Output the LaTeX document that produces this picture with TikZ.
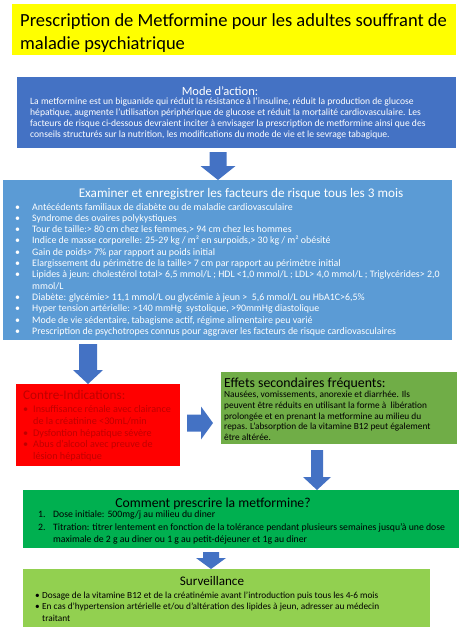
\documentclass[tikz,border=0pt]{standalone}
\usepackage{fontspec}
\setmainfont{Carlito}
\usepackage{xcolor}
\definecolor{vizTitle}{HTML}{FFFF00}
\definecolor{vizMode}{HTML}{4472C4}
\definecolor{vizRisk}{HTML}{5B9BD5}
\definecolor{vizContra}{HTML}{FF0000}
\definecolor{vizContraText}{HTML}{C00000}
\definecolor{vizEffets}{HTML}{70AD47}
\definecolor{vizComment}{HTML}{00B050}
\definecolor{vizSurv}{HTML}{92D050}
\definecolor{vizArrow}{HTML}{4472C4}
\usetikzlibrary{calc}

% block arrow: start, end, shaft half width, head half width, head length
\newcommand{\blockArrow}[5]{%
  \coordinate (ah) at ($(#2)!#5!(#1)$);
  \fill[vizArrow] ($(#1)!#3!90:(#2)$) -- ($(ah)!#3!90:(#2)$) -- ($(ah)!#4!90:(#2)$) -- (#2)
    -- ($(ah)!#4!-90:(#2)$) -- ($(ah)!#3!-90:(#2)$) -- ($(#1)!#3!-90:(#2)$) -- cycle;
}
\newcommand{\riskItem}[1]{\makebox[17pt][l]{\textbullet}#1}
\newcommand{\redItem}[1]{\makebox[10pt][l]{\textbullet}#1}
\newcommand{\numItem}[2]{\makebox[15pt][l]{#1}#2}
\newcommand{\survItem}[1]{\makebox[7pt][l]{\textbullet}#1}

\begin{document}
\begin{tikzpicture}[x=1pt, y=-1pt,
  box/.style={anchor=north west, inner sep=0pt, outer sep=0pt},
  body/.style 2 args={anchor=north west, inner sep=0pt, align=left, font=\fontsize{#1}{#2}\selectfont},
  head/.style={anchor=base, inner sep=0pt, font=\fontsize{#1}{14}\selectfont},
  head/.default=13.5]
  \useasboundingbox (0,0) rectangle (462,630);

  % boxes
  \node[box, fill=vizTitle, minimum width=444pt, minimum height=51pt] (title) at (12,4) {};
  \node[box, fill=vizMode, minimum width=439pt, minimum height=71pt] (mode) at (17,77) {};
  \node[box, fill=vizRisk, minimum width=449pt, minimum height=160pt] (risk) at (3,180) {};
  \node[box, fill=vizContra, minimum width=164pt, minimum height=82pt] (contra) at (16,384) {};
  \node[box, fill=vizEffets, minimum width=236pt, minimum height=72pt] (effets) at (221,372) {};
  \node[box, fill=vizComment, minimum width=436pt, minimum height=58pt] (comment) at (23,490) {};
  \node[box, fill=vizSurv, minimum width=407pt, minimum height=58pt] (surv) at (23,569) {};

  % title
  \node[body={18.5}{22.5}] (titletxt) at (20,13.5) {Prescription de Metformine pour les adultes souffrant de\\maladie psychiatrique};

  % mode d'action
  \node[head=12.5, text=white] (modehead) at (220,95) {Mode d’action:};
  \node[body={9.6}{11}, text=white] (modetxt) at (30,98) {La metformine est un biguanide qui réduit la résistance à l'insuline, réduit la production de glucose\\
    hépatique, augmente l'utilisation périphérique de glucose et réduit la mortalité cardiovasculaire. Les\\
    facteurs de risque ci-dessous devraient inciter à envisager la prescription de metformine ainsi que des\\
    conseils structurés sur la nutrition, les modifications du mode de vie et le sevrage tabagique.};

  % facteurs de risque
  \node[head=13.2, text=white] (riskhead) at (241,197.5) {Examiner et enregistrer les facteurs de risque tous les 3 mois};
  \node[body={9.9}{11.3}, text=white] (risktxt) at (15,203) {\riskItem{Antécédents familiaux de diabète ou de maladie cardiovasculaire}\\
    \riskItem{Syndrome des ovaires polykystiques}\\
    \riskItem{Tour de taille:> 80 cm chez les femmes,> 94 cm chez les hommes}\\
    \riskItem{Indice de masse corporelle: 25-29 kg / m² en surpoids,> 30 kg / m² obésité}\\
    \riskItem{Gain de poids> 7\% par rapport au poids initial}\\
    \riskItem{Elargissement du périmètre de la taille> 7 cm par rapport au périmètre initial}\\
    \riskItem{Lipides à jeun: cholestérol total> 6,5 mmol/L ; HDL <1,0 mmol/L ; LDL> 4,0 mmol/L ; Triglycérides> 2,0}\\
    \hspace*{17pt}mmol/L\\
    \riskItem{Diabète: glycémie> 11,1 mmol/L ou glycémie à jeun >~ 5,6 mmol/L ou HbA1C>6,5\%}\\
    \riskItem{Hyper tension artérielle: >140 mmHg~ systolique, >90mmHg diastolique}\\
    \riskItem{Mode de vie sédentaire, tabagisme actif, régime alimentaire peu varié}\\
    \riskItem{Prescription de psychotropes connus pour aggraver les facteurs de risque cardiovasculaires}};

  % contre-indications
  \node[head=13.2, anchor=base west, text=vizContraText] (contrahead) at (23,399) {Contre-Indications:};
  \node[body={10.2}{11.7}, text=vizContraText] (contratxt) at (23,405.6) {\redItem{Insuffisance rénale avec clairance}\\
    \hspace*{10pt}de la créatinine <30mL/min\\
    \redItem{Dysfontion hépatique sévère}\\
    \redItem{Abus d’alcool avec preuve de}\\
    \hspace*{10pt}lésion hépatique};

  % effets secondaires
  \node[head=13.8, anchor=base west] (effetshead) at (224,387) {Effets secondaires fréquents:};
  \node[body={9.35}{10.6}] (effetstxt) at (224,391.3) {Nausées, vomissements, anorexie et diarrhée. Ils\\
    peuvent être réduits en utilisant la forme à~ libération\\
    prolongée et en prenant la metformine au milieu du\\
    repas. L’absorption de la vitamine B12 peut également\\
    être altérée.};

  % comment prescrire
  \node[head=13.7] (commenthead) at (213,507) {Comment prescrire la metformine?};
  \node[body={9.75}{12.3}] (commenttxt) at (38,511) {\numItem{1.}{Dose initiale: 500mg/j au milieu du diner}\\
    \numItem{2.}{Titration: titrer lentement en fonction de la tolérance pendant plusieurs semaines jusqu'à une dose}\\
    \hspace*{15pt}maximale de 2 g au diner ou 1 g au petit-déjeuner et 1g au diner};

  % surveillance
  \node[head=13.1] (survhead) at (212,585) {Surveillance};
  \node[body={9.3}{11.5}] (survtxt) at (35,591.3) {\survItem{Dosage de la vitamine B12 et de la créatinémie avant l’introduction puis tous les 4-6 mois}\\
    \survItem{En cas d’hypertension artérielle et/ou d’altération des lipides à jeun, adresser au médecin}\\
    \hspace*{7pt}traitant};

  % arrows
  \coordinate (a1s) at (218,152);
  \coordinate (a1e) at (risk.north -| a1s);
  \blockArrow{a1s}{a1e}{8.5pt}{17.5pt}{14pt}
  \coordinate (a2s) at (88,344);
  \coordinate (a2e) at (contra.north -| a2s);
  \blockArrow{a2s}{a2e}{9pt}{15pt}{14pt}
  \coordinate (a3s) at (187,423);
  \coordinate (a3e) at (213,423);
  \blockArrow{a3s}{a3e}{8.5pt}{16.5pt}{12pt}
  \coordinate (a4s) at (317,450);
  \coordinate (a4e) at (comment.north -| a4s);
  \blockArrow{a4s}{a4e}{6pt}{14pt}{13pt}
  \coordinate (a5s) at (211,552);
  \coordinate (a5e) at (surv.north -| a5s);
  \blockArrow{a5s}{a5e}{8pt}{15pt}{11pt}
\end{tikzpicture}
\end{document}
